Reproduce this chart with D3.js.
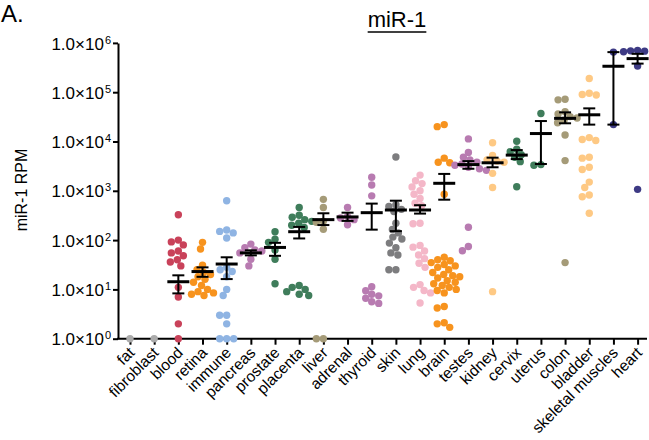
<!DOCTYPE html>
<html><head><meta charset="utf-8">
<script src="https://cdn.jsdelivr.net/npm/d3@7"></script>
<style>body{margin:0;background:#fff}svg{display:block}text{font-family:"Liberation Sans",Arial,sans-serif}</style>
</head><body>
<script>
const categories = ["fat","fibroblast","blood","retina","immune","pancreas","prostate","placenta","liver","adrenal","thyroid","skin","lung","brain","testes","kidney","cervix","uterus","colon","bladder","skeletal muscles","heart"];
const colors = ["#ababab","#ababab","#c9425a","#f7931e","#8fb4e3","#b87bb1","#3f7d5b","#3f7d5b","#a59b78","#b87bb1","#b87bb1","#7d7d7f","#f4b7c8","#f7931e","#b87bb1","#fec984","#3f7d5b","#3f7d5b","#a59b78","#fec984","#3d3a84","#3d3a84"];

const fatVals = [1];
const fibroblastVals = [1];
const bloodVals = [327, 100, 92, 80, 60, 55, 48, 40, 36, 30, 11, 7, 2, 1];
const retinaVals = [90, 66, 31, 25, 22, 20, 18, 16, 14, 12, 10, 9, 8.5, 8, 7.5];
const immuneVals = [630, 160, 150, 140, 110, 28, 25, 23, 18, 10, 7.5, 3, 3, 2, 1, 1, 1];
const pancreasVals = [83, 70, 63, 60, 55, 41, 30];
const prostateVals = [148, 104, 90, 63, 41, 13];
const placentaVals = [460, 320, 290, 260, 240, 220, 200, 180, 12, 11, 10, 9, 8, 7.5];
const liverVals = [670, 460, 240, 230, 166, 1, 1];
const adrenalVals = [460, 300, 280, 260, 205];
const thyroidVals = [1880, 1310, 790, 11.3, 9.4, 8, 7.4, 6.6, 5.6, 5.2];
const skinVals = [4850, 520, 480, 420, 380, 220, 165, 140, 115, 105, 87, 70, 55, 50, 25, 25];
const lungVals = [2080, 1600, 1400, 1200, 1000, 850, 700, 560, 500, 220, 215, 78, 72, 60, 50, 42, 34, 28, 12.5, 11, 9.5, 8.5, 5.3];
const brainVals = [22000, 20000, 4600, 3800, 3700, 850, 45, 40, 38, 35, 32, 30, 28, 25, 22, 20, 19, 18, 17, 15, 14, 13, 12, 11, 10, 9.5, 8.5, 4.5, 4.2, 2.1, 2.0, 1.7];
const testesVals = [11300, 6000, 4800, 4200, 3800, 3500, 3300, 3000, 2800, 2600, 182, 74, 61];
const kidneyVals = [9400, 5200, 4200, 4000, 3800, 2260, 1170, 9];
const cervixVals = [10100, 7000, 6200, 5400, 4800, 3900, 1210];
const uterusVals = [37000, 3400, 3300];
const colonVals = [72000, 70000, 40000, 36000, 32000, 30000, 27000, 24000, 13500, 4100, 35];
const bladderVals = [190000, 95000, 90000, 88000, 12000, 11000, 10500, 4800, 4600, 3000, 2700, 1500, 1170, 820, 760, 350];
const skeletalVals = [650000, 22000];
const heartVals = [700000, 690000, 680000, 660000, 340000, 1070];

const seriesValues = [fatVals, fibroblastVals, bloodVals, retinaVals, immuneVals, pancreasVals, prostateVals, placentaVals, liverVals, adrenalVals, thyroidVals, skinVals, lungVals, brainVals, testesVals, kidneyVals, cervixVals, uterusVals, colonVals, bladderVals, skeletalVals, heartVals];

const means   = [null, null, 14.3, 23, 32.7, 55, 71, 148, 260, 295, 360, 408, 408, 1420, 3400, 3700, 5300, 14500, 29500, 34800, 336000, 480000];
const errLow  = [null, null, 8.3, 18, 16.2, 49, 48, 108, 202, 245, 163, 152, 345, 660, 2800, 3000, 4400, 3500, 23400, 22000, 22000, 380000];
const errHigh = [null, null, 19.3, 28, 44.8, 62, 88, 185, 350, 360, 550, 630, 510, 2200, 4000, 4700, 6700, 26000, 39000, 47000, 650000, 600000];

const yTicks = [1, 10, 100, 1000, 10000, 100000, 1000000];
const yTickExp = ["0","1","2","3","4","5","6"];

const W = 649, H = 440;
const svg = d3.select("body").append("svg").attr("width", W).attr("height", H);

const x = d3.scalePoint().domain(categories).range([130, 637.6]);
const y = d3.scaleLog().domain([1, 1e6]).range([338.7, 42.9]);
const axisX0 = 118, axisX1 = 647;

// Panel label & title
svg.append("text").attr("x", 1).attr("y", 22).attr("font-size", 24).text("A.");
const title = svg.append("text").attr("x", 397).attr("y", 27).attr("text-anchor", "middle").attr("font-size", 22).text("miR-1");
const tb = title.node().getBBox();
svg.append("line").attr("x1", tb.x).attr("x2", tb.x + tb.width).attr("y1", 32).attr("y2", 32).attr("stroke", "#000").attr("stroke-width", 1.5);

// Y label
svg.append("text").attr("transform", "translate(27,190) rotate(-90)").attr("text-anchor", "middle").attr("font-size", 16).text("miR-1 RPM");

// Y axis
const yAxis = svg.append("g").attr("transform", `translate(${axisX0},0)`)
  .call(d3.axisLeft(y).tickValues(yTicks).tickSize(5).tickSizeOuter(0).tickFormat(""));
yAxis.select(".domain").attr("stroke-width", 2);
yAxis.selectAll(".tick line").attr("stroke-width", 2);
yAxis.selectAll(".tick").each(function(d, i) {
  const t = d3.select(this).append("text").attr("x", -7).attr("y", 0).attr("dy", "0.36em")
    .attr("text-anchor", "end").attr("fill", "#000").attr("font-size", 17).attr("font-family", '"Liberation Sans",Arial,sans-serif');
  t.append("tspan").text("1.0×10");
  t.append("tspan").attr("font-size", 11).attr("dy", -6).attr("dx", 1).text(yTickExp[i]);
});

// X axis
svg.append("line").attr("x1", axisX0 - 1).attr("x2", axisX1).attr("y1", y(1)).attr("y2", y(1)).attr("stroke", "#000").attr("stroke-width", 2);
const xAxis = svg.append("g").attr("transform", `translate(0,${y(1)})`)
  .call(d3.axisBottom(x).tickSize(6).tickSizeOuter(0));
xAxis.select(".domain").remove();
xAxis.selectAll(".tick line").attr("stroke-width", 2);
xAxis.selectAll(".tick text")
  .attr("font-size", 15.5).attr("fill", "#000").attr("font-family", '"Liberation Sans",Arial,sans-serif')
  .attr("text-anchor", "end").attr("dy", null).attr("y", 0)
  .attr("transform", "translate(5,15) rotate(-45)");

// Beeswarm layout
const R = 3.7;
function swarm(vals, cx) {
  const pts = vals.map(v => ({ v, py: y(v) })).sort((a, b) => a.py - b.py);
  const placed = [];
  const minD = 2 * R - 0.5;
  for (const p of pts) {
    let off = 0;
    for (let k = 0; k < 400; k++) {
      const cand = (k % 2 === 0 ? 1 : -1) * Math.ceil(k / 2) * 0.5;
      if (placed.every(q => Math.hypot(q.px - (cx + cand), q.py - p.py) >= minD)) { off = cand; break; }
    }
    p.px = cx + off;
    placed.push(p);
  }
  return placed;
}

const dotsG = svg.append("g");
categories.forEach((c, i) => {
  const pts = swarm(seriesValues[i], x(c));
  dotsG.selectAll(null).data(pts).enter().append("circle")
    .attr("cx", d => d.px).attr("cy", d => d.py).attr("r", R).attr("fill", colors[i]);
});

// Mean ± SEM
const barsG = svg.append("g").attr("stroke", "#000");
categories.forEach((c, i) => {
  if (means[i] == null) return;
  const cx = x(c);
  barsG.append("line").attr("x1", cx).attr("x2", cx).attr("y1", y(errLow[i])).attr("y2", y(errHigh[i])).attr("stroke-width", 2);
  barsG.append("line").attr("x1", cx - 6).attr("x2", cx + 6).attr("y1", y(errLow[i])).attr("y2", y(errLow[i])).attr("stroke-width", 2);
  barsG.append("line").attr("x1", cx - 6).attr("x2", cx + 6).attr("y1", y(errHigh[i])).attr("y2", y(errHigh[i])).attr("stroke-width", 2);
  barsG.append("line").attr("x1", cx - 11).attr("x2", cx + 11).attr("y1", y(means[i])).attr("y2", y(means[i])).attr("stroke-width", 3);
});
</script>
</body></html>
